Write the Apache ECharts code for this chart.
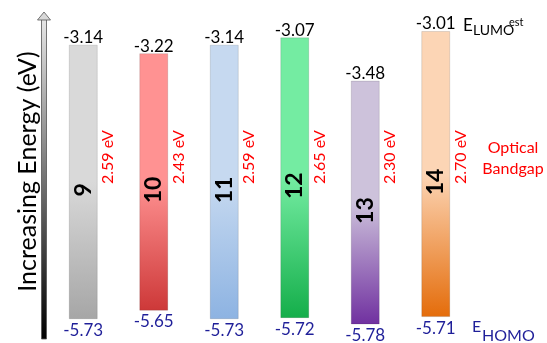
<!DOCTYPE html>
<html><head><meta charset="utf-8">
<script src="https://cdn.jsdelivr.net/npm/echarts@6/dist/echarts.min.js"></script>
<style>html,body{margin:0;padding:0;background:#fff}#c{width:547px;height:343px}</style>
</head><body><div id="c"></div>
<script>
// ---- data ----
const compounds = ['9', '10', '11', '12', '13', '14'];
const lumoEst = [-3.14, -3.22, -3.14, -3.07, -3.48, -3.01];
const homo = [-5.73, -5.65, -5.73, -5.72, -5.78, -5.71];
const opticalGap = [2.59, 2.43, 2.59, 2.65, 2.30, 2.70];

// ---- styles ----
const barColors = [
  ['#d9d9d9', '#a6a6a6'],
  ['#ff9292', '#cd3838'],
  ['#c6d9f0', '#8db3e2'],
  ['#74eca2', '#14ae4a'],
  ['#cdc2db', '#7030a0'],
  ['#fcd5b5', '#e46c0a']
];
const FONT = 'Lato, "Noto Sans", sans-serif';
const HOMO_BLUE = '#1f1f99';
const GAP_RED = '#ff0000';
const gapLabelLevel = -4.2;

const chart = echarts.init(document.getElementById('c'), null, {renderer: 'canvas'});

function renderItem(params, api) {
  const i = api.value(0);
  const top = api.coord([i, api.value(1)]);
  const bot = api.coord([i, api.value(2)]);
  const gapY = api.coord([i, gapLabelLevel])[1];
  const w = 28;
  const cx = top[0];
  const c = barColors[i];
  return {
    type: 'group',
    children: [
      {
        type: 'rect',
        shape: {x: cx - w / 2, y: top[1], width: w, height: bot[1] - top[1]},
        style: {
          fill: new echarts.graphic.LinearGradient(0, 0, 0, 1, [
            {offset: 0, color: c[0]}, {offset: 0.5, color: c[0]}, {offset: 1, color: c[1]}
          ]),
          stroke: 'rgba(0,0,0,0.12)', lineWidth: 1
        }
      },
      {
        type: 'text', x: cx, y: top[1] + 1,
        style: {text: api.value(1).toFixed(2), fill: '#000', font: '17px ' + FONT, align: 'center', verticalAlign: 'bottom'}
      },
      {
        type: 'text', x: cx, y: bot[1] + 3,
        style: {text: api.value(2).toFixed(2), fill: HOMO_BLUE, font: '17px ' + FONT, align: 'center', verticalAlign: 'top'}
      },
      {
        type: 'text', x: cx, y: (top[1] + bot[1]) / 2 + 8, rotation: Math.PI / 2,
        style: {text: compounds[i], fill: '#000', font: 'bold 23px ' + FONT, align: 'center', verticalAlign: 'middle'}
      },
      {
        type: 'text', x: cx + 25, y: gapY, rotation: Math.PI / 2,
        style: {text: api.value(3).toFixed(2) + ' eV', fill: GAP_RED, font: '16px ' + FONT, align: 'center', verticalAlign: 'middle'}
      }
    ]
  };
}

chart.setOption({
  animation: false,
  grid: {left: 48, right: 76, top: 0, bottom: 0},
  xAxis: {type: 'category', data: compounds, show: false},
  yAxis: {
    type: 'value', min: -5.96, max: -2.712,
    axisLine: {show: false}, axisTick: {show: false}, axisLabel: {show: false}, splitLine: {show: false},
    name: 'Increasing Energy (eV)', nameLocation: 'middle', nameGap: 8,
    nameTextStyle: {fontSize: 25, fontFamily: FONT, color: '#000'}
  },
  series: [{
    type: 'custom',
    renderItem: renderItem,
    clip: false,
    encode: {x: 0, y: [1, 2]},
    data: compounds.map((c, i) => [i, lumoEst[i], homo[i], opticalGap[i]])
  }],
  graphic: [
    {
      type: 'rect', z: 10,
      shape: {x: 41.5, y: 19, width: 5, height: 320},
      style: {
        fill: new echarts.graphic.LinearGradient(0, 0, 0, 1, [
          {offset: 0, color: '#e6e6e6'}, {offset: 1, color: '#000'}
        ]),
        stroke: '#555', lineWidth: 0.8
      }
    },
    {
      type: 'polygon', z: 10,
      shape: {points: [[37.5, 20], [44, 12], [50.5, 20]]},
      style: {fill: '#d8d8d8', stroke: '#555', lineWidth: 0.8}
    },
    {type: 'text', x: 463, y: 26, style: {text: 'E', fill: '#000', font: '17px ' + FONT, verticalAlign: 'middle'}},
    {type: 'text', x: 473, y: 30, style: {text: 'LUMO', fill: '#000', font: '14px ' + FONT, verticalAlign: 'middle'}},
    {type: 'text', x: 509, y: 22, style: {text: 'est', fill: '#000', font: '11px ' + FONT, verticalAlign: 'middle'}},
    {type: 'text', x: 513, y: 158, style: {text: 'Optical\nBandgap', fill: GAP_RED, font: '16px ' + FONT, align: 'center', verticalAlign: 'middle', lineHeight: 21}},
    {type: 'text', x: 472, y: 327, style: {text: 'E', fill: HOMO_BLUE, font: '16px ' + FONT, verticalAlign: 'middle'}},
    {type: 'text', x: 482, y: 336, style: {text: 'HOMO', fill: HOMO_BLUE, font: '16px ' + FONT, verticalAlign: 'middle'}}
  ]
});
</script>
</body></html>
